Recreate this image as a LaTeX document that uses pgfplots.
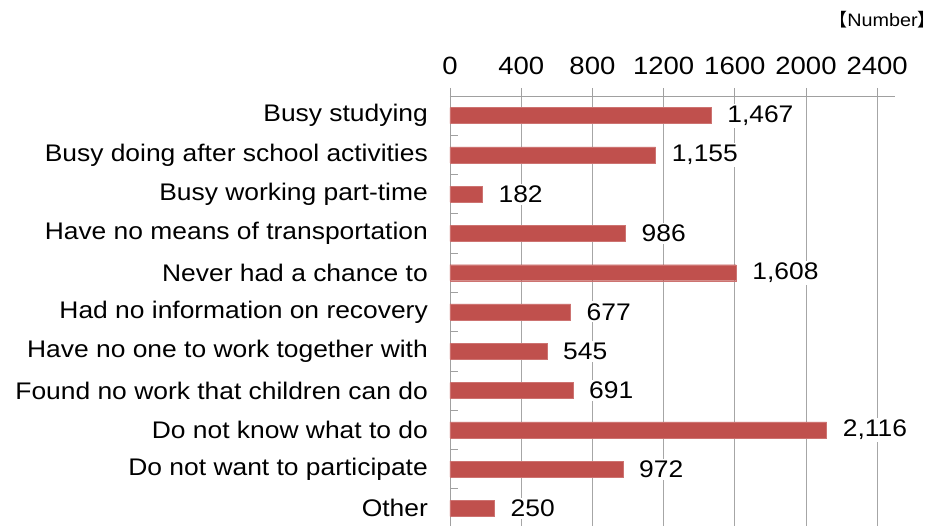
\documentclass[border=0pt]{standalone}
\usepackage{pgfplots}
\pgfplotsset{compat=1.18}
\usepackage{fontspec}
\setmainfont{Liberation Sans}[FakeStretch=1.1]
\newfontfamily\cjk{Noto Sans CJK JP}
\definecolor{barred}{HTML}{C0504D}
\definecolor{gridgray}{HTML}{A6A6A6}
\definecolor{axgray}{HTML}{A0A0A0}
\begin{document}
\begin{tikzpicture}[x=1pt,y=1pt]
\path[use as bounding box] (0,0) rectangle (929,526);
\begin{axis}[
  at={(450pt,-2pt)}, anchor=south west,
  scale only axis, width=445pt, height=432pt,
  xbar, bar width=16pt,
  xmin=0, xmax=2500, ymin=-0.5, ymax=10.5,
  axis x line*=top, axis y line*=left,
  axis line style={axgray, line width=0.8pt},
  xtick={0,400,...,2400},
  xmajorgrids, grid style={gridgray, line width=0.8pt},
  tick align=outside,
  major tick length=8pt, minor tick length=8pt,
  every major x tick/.style={axgray, line width=0.8pt},
  every major y tick/.style={draw=none},
  every minor y tick/.style={axgray, line width=0.8pt, xshift=8pt},
  ytick={0,...,10},
  minor ytick={-0.5,0.5,...,10.5},
  yticklabels={Other, Do not want to participate, Do not know what to do, Found no work that children can do, Have no one to work together with, Had no information on recovery, Never had a chance to, Have no means of transportation, Busy working part-time, Busy doing after school activities, Busy studying},
  font=\fontsize{24}{28}\selectfont,
  yticklabel style={anchor=east, inner sep=0pt, xshift=-14pt},
  xticklabel style={/pgf/number format/1000 sep={}, /pgf/number format/assume math mode=true, inner sep=0pt, yshift=13pt, font=\fontsize{25}{28}\selectfont},
  nodes near coords={\pgfmathprintnumber[1000 sep={,},assume math mode=true]{\pgfplotspointmeta}},
  nodes near coords align={horizontal},
  point meta=x,
  every node near coord/.append style={anchor=west, fill=white, inner sep=2pt, xshift=14pt, text=black},
  clip=false,
]
\addplot[fill=barred, draw=barred!80!white] coordinates {
(250,0) (972,1) (2116,2) (691,3) (545,4) (677,5) (1608,6) (986,7) (182,8) (1155,9) (1467,10)
};
\end{axis}
\node[anchor=east, inner sep=0pt, font=\fontsize{18}{20}\selectfont] at (927,506) {\kern-0.45em{\cjk 【}Number{\cjk 】}\kern-0.5em};
\end{tikzpicture}
\end{document}
